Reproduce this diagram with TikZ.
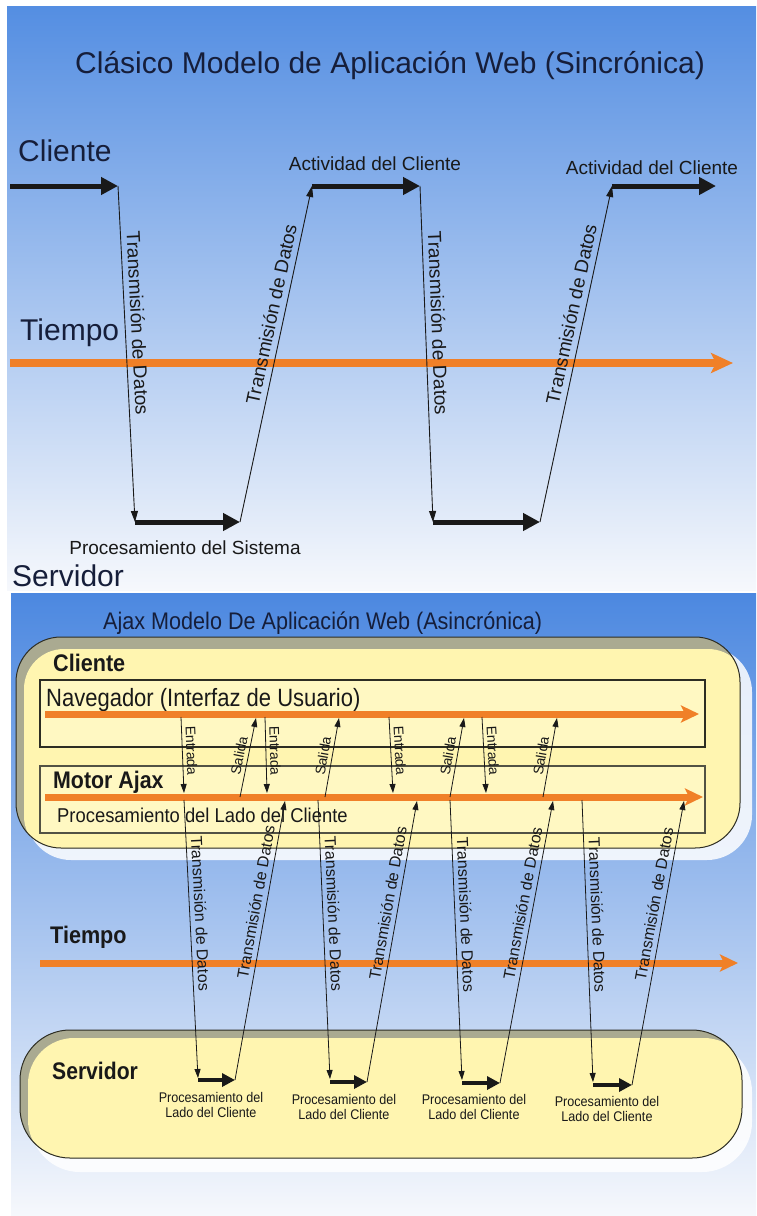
\documentclass[tikz,border=0pt]{standalone}
\usepackage{fontspec}
\setmainfont{Liberation Sans}
\usetikzlibrary{arrows.meta}

\definecolor{skyA}{RGB}{84,142,226}
\definecolor{skyB}{RGB}{150,188,238}
\definecolor{skyC}{RGB}{246,248,252}
\definecolor{skyD}{RGB}{76,136,224}
\definecolor{skyE}{RGB}{168,200,242}
\definecolor{flow}{RGB}{240,128,40}
\definecolor{pane}{RGB}{255,245,176}
\definecolor{paneIn}{RGB}{255,248,194}
\definecolor{rim}{RGB}{170,170,145}
\definecolor{ink}{RGB}{25,25,25}
\definecolor{headink}{RGB}{22,30,58}
\definecolor{frame}{RGB}{45,45,35}

\newcommand\fs[1]{\fontsize{#1}{#1}\selectfont}
\newcommand\nar[2]{\scalebox{#1}[1]{#2}}

\tikzset{
  heavy/.style={line width=5pt, ink, -{Triangle[length=17pt,width=17pt]}},
  heavysm/.style={line width=4pt, ink, -{Triangle[length=13pt,width=13pt]}},
  wire/.style={line width=0.9pt, ink, -{Triangle[length=11pt,width=7pt]}},
  wiresm/.style={line width=0.8pt, ink, -{Triangle[length=9pt,width=6pt]}},
  timeline/.style={flow, line width=8pt, -{Stealth[length=22pt,width=20pt,inset=5pt]}},
  timelinesm/.style={flow, line width=7pt, -{Stealth[length=18pt,width=17pt,inset=4pt]}},
  lbl/.style={sloped, above, inner sep=0pt, outer sep=6pt, text=ink, font=\fs{19}},
  lblsm/.style={sloped, above, inner sep=0pt, outer sep=5pt, text=ink, font=\fs{16}},
  lbltiny/.style={sloped, above, inner sep=0pt, outer sep=4pt, text=ink, font=\fs{14}},
  txt/.style={inner sep=0pt, text=ink},
  proc/.style={inner sep=0pt, text=ink, align=center, font=\fs{14}},
}

\begin{document}
\begin{tikzpicture}[x=1pt, y=-1pt]
\useasboundingbox (0,0) rectangle (756,1216);
\fill[white] (0,0) rectangle (756,1216);

% ---------- synchronous model ----------
\shade[top color=skyA, middle color=skyB, bottom color=skyC] (7,6) rectangle (756,590);

\node[txt, anchor=base west, text=headink] (title1) at (75,73)
  {\fs{30}Clásico Modelo de Aplicación Web (Sincrónica)};
\node[txt, anchor=base west, text=headink] (cli1) at (18,161) {\fs{30}Cliente};
\node[txt, anchor=base west, text=headink] (tie1) at (20,340) {\fs{30}Tiempo};
\node[txt, anchor=base west, text=headink] (srv1) at (12,586) {\fs{30}Servidor};
\node[txt, anchor=base] (act1) at (375,170) {\fs{19}Actividad del Cliente};
\node[txt, anchor=base] (act2) at (652,174) {\fs{19}Actividad del Cliente};
\node[txt, anchor=base] (proc0) at (185,554) {\fs{19}Procesamiento del Sistema};

\coordinate (tl0) at (10,363);
\coordinate (tl1) at (733,363);
\draw[timeline] (tl0) -- (tl1);

\coordinate (c0) at (10,186);
\coordinate (c1) at (118,186);
\coordinate (s1) at (135,522);
\coordinate (s1e) at (240,522);
\coordinate (c2) at (312,186);
\coordinate (c2e) at (420,186);
\coordinate (s2) at (433,522);
\coordinate (s2e) at (540,522);
\coordinate (c3) at (612,186);
\coordinate (c3e) at (716,186);

\draw[heavy] (c0) -- (c1);
\draw[wire] (c1) -- node[lbl, pos=.41] {Transmisión de Datos} (s1);
\draw[heavy] (s1) -- (s1e);
\draw[wire] (s1e) -- node[lbl, pos=.61] {Transmisión de Datos} (c2);
\draw[heavy] (c2) -- (c2e);
\draw[wire] (c2e) -- node[lbl, pos=.41] {Transmisión de Datos} (s2);
\draw[heavy] (s2) -- (s2e);
\draw[wire] (s2e) -- node[lbl, pos=.61] {Transmisión de Datos} (c3);
\draw[heavy] (c3) -- (c3e);

% ---------- asynchronous model ----------
\shade[top color=skyD, middle color=skyE, bottom color=skyC] (11,593) rectangle (756,1216);

\node[txt, anchor=base west, text=headink] (title2) at (103,629)
  {\fs{24}\nar{0.9}{Ajax Modelo De Aplicación Web (Asincrónica)}};

% client container
\fill[white, opacity=0.85, rounded corners=45pt] (26,647) rectangle (752,860);
\fill[rim, rounded corners=45pt] (16,637) rectangle (740,848);
\begin{scope}
  \clip[rounded corners=45pt] (16,637) rectangle (740,848);
  \fill[pane, rounded corners=40pt] (24,649) rectangle (748,856);
\end{scope}
\draw[frame, line width=1pt, rounded corners=45pt] (16,637) rectangle (740,848);

\node[txt, anchor=base west] (cli2) at (53,671) {\fs{24}\bfseries\nar{0.9}{Cliente}};
\filldraw[fill=paneIn, draw=frame, line width=1.1pt] (40,680) rectangle (705,747);
\filldraw[fill=paneIn, draw=frame!70!rim, line width=1.1pt] (40,766) rectangle (705,833);
\node[txt, anchor=base west] (nav) at (46,706) {\fs{25}\nar{0.88}{Navegador (Interfaz de Usuario)}};
\node[txt, anchor=base west] (motor) at (53,788) {\fs{24}\bfseries\nar{0.89}{Motor Ajax}};
\node[txt, anchor=base west] (pl) at (57,822) {\fs{20}\nar{0.92}{Procesamiento del Lado del Cliente}};

% server container
\fill[white, opacity=0.85, rounded corners=50pt] (30,1042) rectangle (752,1172);
\fill[rim, rounded corners=50pt] (20,1030) rectangle (742,1158);
\begin{scope}
  \clip[rounded corners=50pt] (20,1030) rectangle (742,1158);
  \fill[pane, rounded corners=46pt] (28,1038) rectangle (750,1166);
\end{scope}
\draw[frame, line width=1pt, rounded corners=50pt] (20,1030) rectangle (742,1158);

\node[txt, anchor=base west] (srv2) at (52,1079) {\fs{24}\bfseries\nar{0.88}{Servidor}};
\node[txt, anchor=base west] (tie2) at (50,943) {\fs{24}\bfseries\nar{0.9}{Tiempo}};

\node[proc, anchor=north] (p1) at (211,1092) {\nar{0.9}{Procesamiento del}\\[1pt]\nar{0.9}{Lado del Cliente}};
\node[proc, anchor=north] (p2) at (344,1094) {\nar{0.9}{Procesamiento del}\\[1pt]\nar{0.9}{Lado del Cliente}};
\node[proc, anchor=north] (p3) at (474,1094) {\nar{0.9}{Procesamiento del}\\[1pt]\nar{0.9}{Lado del Cliente}};
\node[proc, anchor=north] (p4) at (607,1096) {\nar{0.9}{Procesamiento del}\\[1pt]\nar{0.9}{Lado del Cliente}};

% time lines
\coordinate (nv0) at (45,714);
\coordinate (nv1) at (699,714);
\coordinate (mo0) at (45,797);
\coordinate (mo1) at (703,797);
\coordinate (tm0) at (40,963);
\coordinate (tm1) at (738,963);
\draw[timelinesm] (nv0) -- (nv1);
\draw[timelinesm] (mo0) -- (mo1);
\draw[timelinesm] (tm0) -- (tm1);

% input / output between browser and engine
\coordinate (ei1) at (181,717); \coordinate (eo1) at (184,793);
\coordinate (ei2) at (265,717); \coordinate (eo2) at (267,793);
\coordinate (ei3) at (389,717); \coordinate (eo3) at (393,793);
\coordinate (ei4) at (482,717); \coordinate (eo4) at (486,793);
\coordinate (si1) at (240,797); \coordinate (so1) at (256,718);
\coordinate (si2) at (325,797); \coordinate (so2) at (339,718);
\coordinate (si3) at (450,797); \coordinate (so3) at (464,718);
\coordinate (si4) at (543,797); \coordinate (so4) at (557,718);
\foreach \i in {1,...,4}{
  \draw[wiresm] (ei\i) -- node[lbltiny, pos=.45] {Entrada} (eo\i);
  \draw[wiresm] (si\i) -- node[lbltiny, pos=.5] {Salida} (so\i);
}

% engine <-> server exchanges
\coordinate (d1) at (184,800);  \coordinate (r1) at (198,1078);
\coordinate (q1) at (198,1080); \coordinate (q1e) at (235,1080); \coordinate (u1) at (285,801);
\coordinate (d2) at (318,800);  \coordinate (r2) at (330,1079);
\coordinate (q2) at (330,1082); \coordinate (q2e) at (367,1082); \coordinate (u2) at (417,801);
\coordinate (d3) at (450,800);  \coordinate (r3) at (462,1080);
\coordinate (q3) at (462,1083); \coordinate (q3e) at (500,1083); \coordinate (u3) at (553,801);
\coordinate (d4) at (582,800);  \coordinate (r4) at (593,1082);
\coordinate (q4) at (593,1085); \coordinate (q4e) at (632,1085); \coordinate (u4) at (684,801);
\foreach \i in {1,...,4}{
  \draw[wiresm] (d\i) -- node[lblsm, pos=.41] {Transmisión de Datos} (r\i);
  \draw[heavysm] (q\i) -- (q\i e);
  \draw[wiresm] (q\i e) -- node[lblsm, pos=.63] {Transmisión de Datos} (u\i);
}
\end{tikzpicture}
\end{document}
